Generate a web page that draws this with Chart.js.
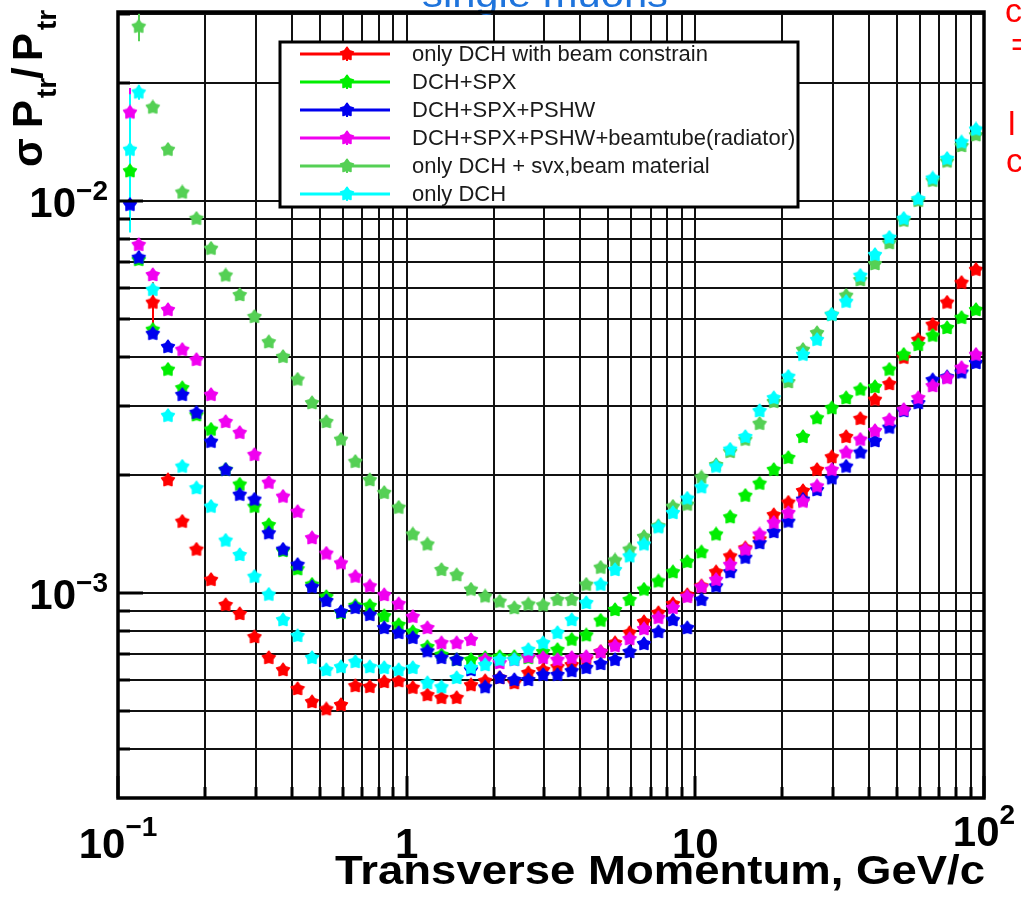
<!DOCTYPE html>
<html>
<head>
<meta charset="utf-8">
<script src="https://cdn.jsdelivr.net/npm/chart.js@4.4.1/dist/chart.umd.min.js"></script>
<style>
  html, body { margin: 0; padding: 0; background: #fff; }
  #wrap { width: 1021px; height: 898px; position: relative; overflow: hidden; }
</style>
</head>
<body>
<div id="wrap"><canvas id="resChart" width="1021" height="898"></canvas></div>
<script>
// --- Data ---
const momentum = [0.110, 0.118, 0.132, 0.149, 0.167, 0.187, 0.210, 0.236, 0.264, 0.297,
  0.333, 0.373, 0.419, 0.470, 0.527, 0.592, 0.664, 0.745, 0.836, 0.938,
  1.05, 1.18, 1.32, 1.49, 1.67, 1.87, 2.10, 2.36, 2.64, 2.97,
  3.33, 3.73, 4.19, 4.70, 5.27, 5.92, 6.64, 7.45, 8.36, 9.38,
  10.5, 11.8, 13.2, 14.9, 16.7, 18.7, 21.0, 23.6, 26.4, 29.7,
  33.3, 37.3, 41.9, 47.0, 52.7, 59.2, 66.4, 74.5, 83.6, 93.8];

const resDchBeam = [null, null, 5.5e-3, 1.94e-3, 1.52e-3, 1.29e-3, 1.08e-3, 9.32e-4, 8.84e-4, 7.72e-4,
  6.83e-4, 6.36e-4, 5.69e-4, 5.27e-4, 5.05e-4, 5.18e-4, 5.79e-4, 5.76e-4, 5.93e-4, 5.96e-4,
  5.73e-4, 5.49e-4, 5.40e-4, 5.40e-4, 5.82e-4, 5.96e-4, 6.07e-4, 5.89e-4, 6.25e-4, 6.36e-4,
  6.47e-4, 6.55e-4, 6.78e-4, 7.07e-4, 7.45e-4, 7.91e-4, 8.43e-4, 8.89e-4, 9.37e-4, 9.88e-4,
  1.04e-3, 1.13e-3, 1.24e-3, 1.30e-3, 1.37e-3, 1.58e-3, 1.70e-3, 1.82e-3, 2.06e-3, 2.22e-3,
  2.50e-3, 2.78e-3, 3.11e-3, 3.41e-3, 3.98e-3, 4.42e-3, 4.83e-3, 5.50e-3, 6.18e-3, 6.67e-3];

const resDchSpx = [1.19e-2, 7.07e-3, 4.69e-3, 3.71e-3, 3.33e-3, 2.84e-3, 2.61e-3, 2.06e-3, 1.89e-3, 1.66e-3,
  1.49e-3, 1.28e-3, 1.15e-3, 1.05e-3, 9.77e-4, 8.89e-4, 9.27e-4, 9.27e-4, 8.73e-4, 8.29e-4,
  7.95e-4, 7.28e-4, 6.95e-4, 6.75e-4, 6.75e-4, 6.83e-4, 6.87e-4, 6.87e-4, 6.83e-4, 7.07e-4,
  7.16e-4, 7.60e-4, 7.80e-4, 8.50e-4, 9.05e-4, 9.60e-4, 1.02e-3, 1.07e-3, 1.13e-3, 1.20e-3,
  1.27e-3, 1.41e-3, 1.56e-3, 1.77e-3, 1.90e-3, 2.06e-3, 2.21e-3, 2.50e-3, 2.79e-3, 2.96e-3,
  3.14e-3, 3.30e-3, 3.35e-3, 3.71e-3, 4.05e-3, 4.29e-3, 4.53e-3, 4.74e-3, 5.03e-3, 5.27e-3];

const resDchSpxPshw = [9.77e-3, 7.16e-3, 4.58e-3, 4.24e-3, 3.20e-3, 2.88e-3, 2.43e-3, 2.06e-3, 1.78e-3, 1.73e-3,
  1.42e-3, 1.29e-3, 1.18e-3, 1.035e-3, 9.54e-4, 8.94e-4, 9.16e-4, 8.79e-4, 8.14e-4, 7.91e-4,
  7.68e-4, 7.10e-4, 6.83e-4, 6.75e-4, 6.36e-4, 5.75e-4, 6.07e-4, 6.00e-4, 6.00e-4, 6.18e-4,
  6.18e-4, 6.32e-4, 6.44e-4, 6.59e-4, 6.75e-4, 7.07e-4, 7.41e-4, 7.95e-4, 8.53e-4, 8.14e-4,
  9.60e-4, 1.04e-3, 1.13e-3, 1.23e-3, 1.34e-3, 1.43e-3, 1.52e-3, 1.73e-3, 1.83e-3, 1.96e-3,
  2.10e-3, 2.28e-3, 2.44e-3, 2.64e-3, 2.91e-3, 3.05e-3, 3.49e-3, 3.55e-3, 3.65e-3, 3.86e-3];

const resBeamtube = [1.68e-2, 7.72e-3, 6.47e-3, 5.27e-3, 4.17e-3, 3.93e-3, 3.20e-3, 2.73e-3, 2.56e-3, 2.25e-3,
  1.91e-3, 1.76e-3, 1.61e-3, 1.38e-3, 1.26e-3, 1.19e-3, 1.10e-3, 1.04e-3, 9.88e-4, 9.37e-4,
  8.69e-4, 8.14e-4, 7.45e-4, 7.45e-4, 7.59e-4, 6.75e-4, 6.63e-4, 6.75e-4, 6.87e-4, 6.83e-4,
  6.75e-4, 6.83e-4, 6.87e-4, 7.07e-4, 7.32e-4, 7.63e-4, 8.09e-4, 8.64e-4, 9.16e-4, 9.77e-4,
  1.035e-3, 1.08e-3, 1.18e-3, 1.29e-3, 1.41e-3, 1.51e-3, 1.60e-3, 1.71e-3, 1.87e-3, 2.06e-3,
  2.28e-3, 2.46e-3, 2.59e-3, 2.76e-3, 2.93e-3, 3.14e-3, 3.37e-3, 3.53e-3, 3.75e-3, 4.05e-3];

const resSvxBeam = [null, 2.78e-2, 1.73e-2, 1.35e-2, 1.05e-2, 9.0e-3, 7.55e-3, 6.45e-3, 5.75e-3, 5.06e-3,
  4.36e-3, 4.0e-3, 3.5e-3, 3.05e-3, 2.73e-3, 2.46e-3, 2.16e-3, 1.94e-3, 1.8e-3, 1.65e-3,
  1.41e-3, 1.33e-3, 1.145e-3, 1.11e-3, 1.02e-3, 9.8e-4, 9.5e-4, 9.15e-4, 9.35e-4, 9.3e-4,
  9.6e-4, 9.6e-4, 1.05e-3, 1.16e-3, 1.21e-3, 1.29e-3, 1.39e-3, 1.48e-3, 1.66e-3, 1.68e-3,
  1.97e-3, 2.12e-3, 2.29e-3, 2.46e-3, 2.70e-3, 3.07e-3, 3.45e-3, 4.17e-3, 4.6e-3, 5.12e-3,
  5.73e-3, 6.28e-3, 6.90e-3, 7.8e-3, 8.9e-3, 1.0e-2, 1.125e-2, 1.26e-2, 1.38e-2, 1.47e-2];

const resDchOnly = [1.35e-2, 1.89e-2, 5.93e-3, 2.83e-3, 2.10e-3, 1.85e-3, 1.66e-3, 1.36e-3, 1.25e-3, 1.10e-3,
  9.9e-4, 8.53e-4, 7.77e-4, 6.83e-4, 6.36e-4, 6.47e-4, 6.67e-4, 6.47e-4, 6.44e-4, 6.36e-4,
  6.44e-4, 5.89e-4, 5.75e-4, 6.07e-4, 6.44e-4, 6.55e-4, 6.75e-4, 6.75e-4, 7.16e-4, 7.45e-4,
  7.91e-4, 8.53e-4, 9.43e-4, 1.05e-3, 1.145e-3, 1.24e-3, 1.33e-3, 1.47e-3, 1.60e-3, 1.74e-3,
  1.86e-3, 2.1e-3, 2.32e-3, 2.50e-3, 2.91e-3, 3.14e-3, 3.56e-3, 4.05e-3, 4.42e-3, 5.12e-3,
  5.53e-3, 6.44e-3, 7.28e-3, 8.05e-3, 9.0e-3, 1.01e-2, 1.14e-2, 1.28e-2, 1.41e-2, 1.52e-2];

// error bars (only the first few points have visible ones)
const errDchBeam = [0, 0, 0.0007];
const errDchSpx = [0.0004];
const errDchSpxPshw = [0.0009, 0.0003];
const errBeamtube = [0.0026];
const errSvxBeam = [0, 0.0023];
const errDchOnly = [0.0052, 0.0008];

// gridlines and tick labels
const xGrid = [0.1, 0.2, 0.3, 0.4, 0.5, 0.6, 0.7, 0.8, 0.9, 1, 2, 3, 4, 5, 6, 7, 8, 9, 10,
  20, 30, 40, 50, 60, 70, 80, 90, 100];
const yGrid = [4e-4, 5e-4, 6e-4, 7e-4, 8e-4, 9e-4, 1e-3, 2e-3, 3e-3, 4e-3, 5e-3, 6e-3, 7e-3, 8e-3, 9e-3,
  1e-2, 2e-2, 3e-2];
const xTickValues = [0.1, 1, 10, 100];
const xTickText = [['10', '\u22121'], ['1', ''], ['10', ''], ['10', '2']];
const yTickValues = [1e-3, 1e-2];
const yTickText = [['10', '\u22123'], ['10', '\u22122']];
const xTitle = 'Transverse Momentum, GeV/c';
const plotTitle = 'single muons';

const FONT = '"Liberation Sans", Arial, Helvetica, sans-serif';

// --- Series table ---
const series = [
  { label: 'only DCH with beam constrain', color: '#ff0000', values: resDchBeam, err: errDchBeam, order: 6 },
  { label: 'DCH+SPX', color: '#00ee00', values: resDchSpx, err: errDchSpx, order: 5 },
  { label: 'DCH+SPX+PSHW', color: '#0000ee', values: resDchSpxPshw, err: errDchSpxPshw, order: 4 },
  { label: 'DCH+SPX+PSHW+beamtube(radiator)', color: '#f000f0', values: resBeamtube, err: errBeamtube, order: 3 },
  { label: 'only DCH + svx,beam material', color: '#55d055', values: resSvxBeam, err: errSvxBeam, order: 2 },
  { label: 'only DCH', color: '#00ffff', values: resDchOnly, err: errDchOnly, order: 1 }
];

// fat filled star, close to the ROOT marker at this size
function starMarker(color, r) {
  const c = document.createElement('canvas');
  const s = Math.ceil(r * 2 + 2);
  c.width = s; c.height = s;
  const g = c.getContext('2d');
  g.fillStyle = color;
  g.strokeStyle = color;
  g.lineWidth = 1.5;
  g.lineJoin = 'round';
  g.beginPath();
  for (let i = 0; i < 10; i++) {
    const rad = i % 2 ? r * 0.62 : r;
    const a = -Math.PI / 2 + i * Math.PI / 5;
    g.lineTo(s / 2 + rad * Math.cos(a), s / 2 + rad * Math.sin(a));
  }
  g.closePath();
  g.fill();
  g.stroke();
  return c;
}

series.forEach(s => { s.marker = starMarker(s.color, 6.8); });

// --- Decorations: error bars, frame, legend, labels ---
const decor = {
  id: 'decor',
  beforeDatasetsDraw(chart) {
    const { ctx, scales: { x, y } } = chart;
    ctx.save();
    ctx.lineWidth = 2;
    series.forEach(s => {
      ctx.strokeStyle = s.color;
      s.err.forEach((e, i) => {
        const v = s.values[i];
        if (!e || v == null) return;
        const px = Math.round(x.getPixelForValue(momentum[i]));
        ctx.beginPath();
        ctx.moveTo(px, y.getPixelForValue(v + e));
        ctx.lineTo(px, y.getPixelForValue(v - e));
        ctx.stroke();
      });
    });
    ctx.restore();
  },
  afterDatasetsDraw(chart) {
    const { ctx, chartArea: a, scales: { x, y } } = chart;
    ctx.save();

    // title (cut off at the top of the image)
    ctx.fillStyle = '#1f74dc';
    ctx.font = '37px ' + FONT;
    let w = ctx.measureText(plotTitle).width;
    ctx.save();
    ctx.translate(545, 7);
    ctx.scale(246 / w, 1);
    ctx.textAlign = 'center';
    ctx.fillText(plotTitle, 0, 0);
    ctx.restore();

    // red text fragments on the right edge
    ctx.fillStyle = '#ff0000';
    ctx.font = '34px ' + FONT;
    ctx.textAlign = 'left';
    ctx.fillText('c', 1005, 22);
    ctx.fillText('=', 1011, 56);
    ctx.fillText('l', 1008, 135);
    ctx.fillText('c', 1006, 172);

    // frame
    ctx.strokeStyle = '#000';
    ctx.lineWidth = 3.5;
    ctx.strokeRect(a.left, a.top, a.right - a.left, a.bottom - a.top);

    // axis ticks
    ctx.lineWidth = 3;
    yGrid.forEach(v => {
      const py = Math.round(y.getPixelForValue(v));
      const len = yTickValues.includes(v) ? 25 : 12;
      ctx.beginPath(); ctx.moveTo(a.left, py); ctx.lineTo(a.left + len, py); ctx.stroke();
    });
    xGrid.forEach(v => {
      const px = Math.round(x.getPixelForValue(v));
      const len = xTickValues.includes(v) ? 22 : 11;
      ctx.beginPath(); ctx.moveTo(px, a.bottom); ctx.lineTo(px, a.bottom - len); ctx.stroke();
    });

    // legend box
    const lx = 280, ly = 42, lw = 518, lh = 165;
    ctx.fillStyle = '#fff';
    ctx.fillRect(lx, ly, lw, lh);
    ctx.lineWidth = 3;
    ctx.strokeRect(lx, ly, lw, lh);
    ctx.font = '22px ' + FONT;
    ctx.textBaseline = 'middle';
    series.forEach((s, i) => {
      const ry = ly + 12 + i * 28;
      ctx.strokeStyle = s.color;
      ctx.lineWidth = 3;
      ctx.beginPath(); ctx.moveTo(lx + 20, ry); ctx.lineTo(lx + 110, ry); ctx.stroke();
      ctx.lineWidth = 2;
      ctx.beginPath(); ctx.moveTo(lx + 67, ry - 7); ctx.lineTo(lx + 67, ry + 7); ctx.stroke();
      ctx.drawImage(s.marker, lx + 67 - s.marker.width / 2, ry - s.marker.height / 2);
      ctx.fillStyle = '#1a1a1a';
      ctx.fillText(s.label, lx + 132, ry + 1);
    });
    ctx.textBaseline = 'alphabetic';
    ctx.fillStyle = '#000';

    // x tick labels
    xTickValues.forEach((v, i) => {
      const [base, sup] = xTickText[i];
      ctx.font = 'bold 42px ' + FONT;
      const wb = ctx.measureText(base).width;
      ctx.font = 'bold 28px ' + FONT;
      const ws = sup ? ctx.measureText(sup).width : 0;
      const left = x.getPixelForValue(v) - (wb + ws) / 2;
      const base_y = v === 100 ? a.bottom + 48 : a.bottom + 60;
      ctx.font = 'bold 42px ' + FONT;
      ctx.fillText(base, left, base_y);
      if (sup) {
        ctx.font = 'bold 28px ' + FONT;
        ctx.fillText(sup, left + wb, base_y - 22);
      }
    });

    // y tick labels
    yTickValues.forEach((v, i) => {
      const [base, sup] = yTickText[i];
      const py = y.getPixelForValue(v);
      ctx.font = 'bold 28px ' + FONT;
      const ws = ctx.measureText(sup).width;
      ctx.font = 'bold 42px ' + FONT;
      const wb = ctx.measureText(base).width;
      const right = a.left - 10;
      ctx.fillText(base, right - ws - wb, py + 16);
      ctx.font = 'bold 28px ' + FONT;
      ctx.fillText(sup, right - ws, py - 1);
    });

    // x axis title (wide bold face)
    ctx.font = 'bold 40px ' + FONT;
    w = ctx.measureText(xTitle).width;
    ctx.save();
    ctx.translate(a.right + 1, 884);
    ctx.scale(650 / w, 1);
    ctx.textAlign = 'right';
    ctx.fillText(xTitle, 0, 0);
    ctx.restore();

    // y axis title: sigma P_tr / P_tr
    ctx.save();
    ctx.translate(42, 167);
    ctx.rotate(-Math.PI / 2);
    ctx.font = 'bold 42px ' + FONT;
    ctx.fillText('\u03c3', 0, 0);
    ctx.fillText('P', 39, 0);
    ctx.fillText('/', 88, 0);
    ctx.fillText('P', 106, 0);
    ctx.font = 'bold 28px ' + FONT;
    ctx.fillText('tr', 69, 14);
    ctx.fillText('tr', 137, 14);
    ctx.restore();

    ctx.restore();
  }
};

// --- Chart ---
function initChart() {
  const datasets = series.map(s => ({
    label: s.label,
    data: momentum.map((p, i) => ({ x: p, y: s.values[i] })).filter(d => d.y != null),
    showLine: false,
    pointStyle: s.marker,
    pointRadius: 7,
    borderColor: s.color,
    backgroundColor: s.color,
    order: s.order
  }));

  new Chart(document.getElementById('resChart').getContext('2d'), {
    type: 'line',
    data: { datasets },
    options: {
      responsive: false,
      animation: false,
      devicePixelRatio: 1,
      layout: { padding: { left: 118, top: 12, right: 37, bottom: 100 } },
      plugins: { legend: { display: false }, tooltip: { enabled: false } },
      scales: {
        x: {
          type: 'logarithmic', min: 0.1, max: 100,
          afterBuildTicks: s => { s.ticks = xGrid.map(v => ({ value: v })); },
          ticks: { display: false },
          grid: { color: '#111', lineWidth: 2, drawTicks: false },
          border: { display: false }
        },
        y: {
          type: 'logarithmic', min: 3.0e-4, max: 0.0303,
          afterBuildTicks: s => { s.ticks = yGrid.map(v => ({ value: v })); },
          ticks: { display: false },
          grid: { color: '#111', lineWidth: 2, drawTicks: false },
          border: { display: false }
        }
      }
    },
    plugins: [decor]
  });
}

document.addEventListener('DOMContentLoaded', () => {
  try {
    initChart();
  } catch (e) {
    console.error('Chart init failed:', e);
  }
});
</script>
</body>
</html>
